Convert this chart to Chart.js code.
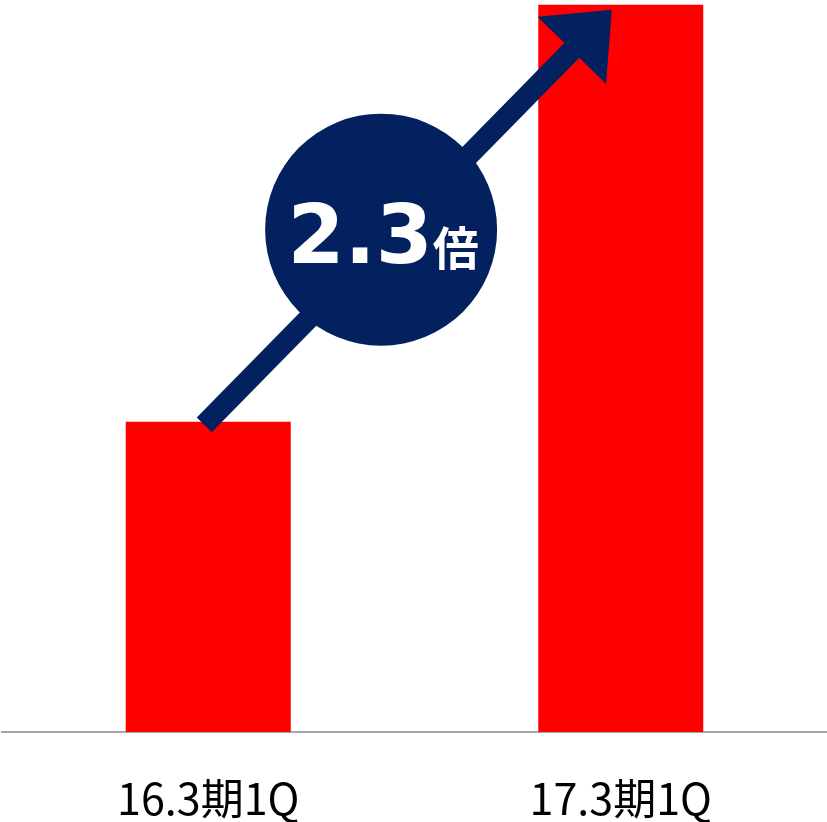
<!DOCTYPE html>
<html>
<head>
<meta charset="utf-8">
<script src="https://cdn.jsdelivr.net/npm/chart.js@4"></script>
<style>
  html, body { margin: 0; padding: 0; background: #fff; }
  #wrap { width: 827px; height: 822px; }
</style>
</head>
<body>
<div id="wrap"><canvas id="main"></canvas></div>
<script>
const categories = ["16.3期1Q", "17.3期1Q"];
const values = [100, 234.5];
const growthLabel = "2.3";
const growthUnit = "倍";

const NAVY = "#04215f";

// arrow + circle badge drawn from the bar positions
const growthBadge = {
  id: "growthBadge",
  afterDatasetsDraw(chart) {
    const { ctx, scales } = chart;
    const x0 = scales.x.getPixelForValue(0);
    const y0 = scales.y.getPixelForValue(values[0]);
    const x1 = scales.x.getPixelForValue(1);
    const y1 = scales.y.getPixelForValue(values[1]);

    const tail = { x: x0 - 4, y: y0 + 3 };
    const tip = { x: x1 - 9, y: y1 + 5 };
    const dx = tip.x - tail.x, dy = tip.y - tail.y;
    const len = Math.hypot(dx, dy);
    const ux = dx / len, uy = dy / len;
    const px = -uy, py = ux;
    const shaftW = 10.5, headW = 48, headL = 57;
    const bx = tip.x - ux * headL, by = tip.y - uy * headL;

    ctx.save();
    ctx.fillStyle = NAVY;
    ctx.beginPath();
    ctx.moveTo(tail.x + px * shaftW, tail.y + py * shaftW);
    ctx.lineTo(bx + px * shaftW, by + py * shaftW);
    ctx.lineTo(bx + px * headW, by + py * headW);
    ctx.lineTo(tip.x, tip.y);
    ctx.lineTo(bx - px * headW, by - py * headW);
    ctx.lineTo(bx - px * shaftW, by - py * shaftW);
    ctx.lineTo(tail.x - px * shaftW, tail.y - py * shaftW);
    ctx.closePath();
    ctx.fill();

    // circle
    const t = 0.434;
    const cx = tail.x + dx * t;
    const cy = tail.y + dy * t - 15;
    ctx.beginPath();
    ctx.arc(cx, cy, 116, 0, Math.PI * 2);
    ctx.fill();

    // text
    ctx.fillStyle = "#fff";
    ctx.textBaseline = "alphabetic";
    ctx.textAlign = "left";
    ctx.font = "bold 82px 'DejaVu Sans'";
    const w1 = ctx.measureText(growthLabel).width;
    ctx.font = "bold 46px 'Noto Sans CJK JP'";
    const w2 = ctx.measureText(growthUnit).width;
    const start = cx - (w1 + w2) / 2 + 2;
    const base = cy + 33;
    ctx.font = "bold 82px 'DejaVu Sans'";
    ctx.fillText(growthLabel, start, base);
    ctx.font = "bold 46px 'Noto Sans CJK JP'";
    ctx.fillText(growthUnit, start + w1, base + 2);
    ctx.restore();
  }
};

new Chart(document.getElementById("main"), {
  type: "bar",
  data: {
    labels: categories,
    datasets: [{
      data: values,
      backgroundColor: "#ff0000",
      borderWidth: 0,
      barPercentage: 0.8,
      categoryPercentage: 0.5
    }]
  },
  options: {
    responsive: true,
    maintainAspectRatio: false,
    animation: false,
    layout: { padding: { left: 2, right: 0, top: 0, bottom: 0 } },
    plugins: {
      legend: { display: false },
      tooltip: { enabled: false }
    },
    scales: {
      x: {
        grid: { display: false },
        border: { display: true, color: "#a6a6a6", width: 2 },
        ticks: {
          color: "#000",
          padding: 33,
          font: { family: "'Noto Sans CJK JP'", size: 43 }
        },
        afterFit: (s) => { s.height = 90; }
      },
      y: {
        display: false,
        min: 0,
        max: 236
      }
    }
  },
  plugins: [growthBadge]
});
</script>
</body>
</html>
